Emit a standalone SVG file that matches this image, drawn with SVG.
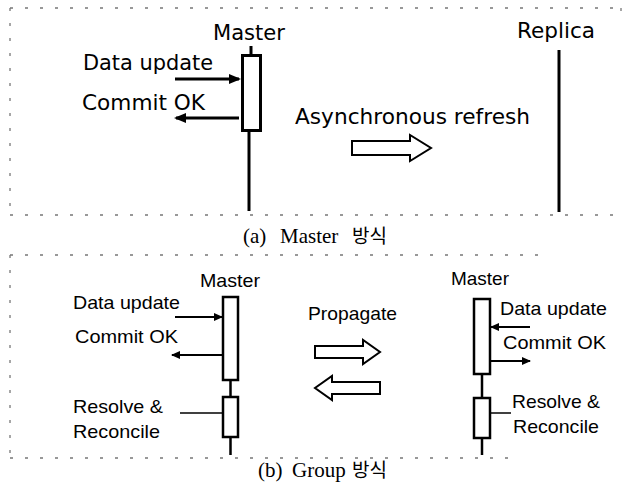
<svg xmlns="http://www.w3.org/2000/svg" width="625" height="496" viewBox="0 0 625 496">
<style>
.t1{font-family:"DejaVu Sans","Liberation Sans",sans-serif;font-size:21px;fill:#000}
.t2{font-family:"Liberation Sans","Arial",sans-serif;font-size:19px;fill:#000}
.cap{font-family:"Liberation Serif","Noto Sans CJK KR",serif;font-size:21px;fill:#000}
.ko{font-family:"Noto Sans CJK KR",sans-serif;font-size:19px}
.frame{fill:none;stroke:#777;stroke-width:1.3;stroke-dasharray:3 12}
.life1{fill:none;stroke:#000;stroke-width:3}
.life2{fill:none;stroke:#000;stroke-width:2.5}
.arr1{fill:none;stroke:#000;stroke-width:3;marker-end:url(#ah1)}
.arr2{fill:none;stroke:#000;stroke-width:2;marker-end:url(#ah2)}
.plain2{fill:none;stroke:#000;stroke-width:1.5}
.block{fill:#fff;stroke:#000;stroke-width:2;stroke-linejoin:miter}
</style>
<defs>
<marker id="ah1" markerWidth="12" markerHeight="10" refX="10" refY="5" orient="auto" markerUnits="userSpaceOnUse">
<path d="M0,0 L12,5 L0,10 z" fill="#000"/>
</marker>
<marker id="ah2" markerWidth="9" markerHeight="8" refX="8" refY="4" orient="auto" markerUnits="userSpaceOnUse">
<path d="M0,0 L9,4 L0,8 z" fill="#000"/>
</marker>
</defs>

<g id="frames">
<path class="frame" d="M10,8 H620 M10,215 H620 M10,8 V215 M621,8 V22"/>
<path class="frame" d="M10,255 H540 M10,458 H510 M10,255 V458"/>
</g>

<g id="master-a">
<text class="t1" x="213" y="40" textLength="72" lengthAdjust="spacingAndGlyphs">Master</text>
<line class="life1" x1="251" y1="46" x2="251" y2="55"/>
<rect class="life1" x="242.5" y="55.5" width="18" height="75"/>
<line class="life1" x1="249" y1="131" x2="249" y2="211"/>
</g>

<g id="replica-a">
<text class="t1" x="517" y="38" textLength="78" lengthAdjust="spacingAndGlyphs">Replica</text>
<line class="life1" x1="559" y1="50" x2="559" y2="212"/>
</g>

<g id="labels-a">
<text class="t1" x="83" y="70" textLength="130" lengthAdjust="spacingAndGlyphs">Data update</text>
<text class="t1" x="82" y="110" textLength="123" lengthAdjust="spacingAndGlyphs">Commit OK</text>
<text class="t1" x="295" y="124" textLength="235" lengthAdjust="spacingAndGlyphs">Asynchronous refresh</text>
</g>

<g id="caption-a">
<text class="cap" y="243"><tspan x="243">(a)</tspan><tspan x="280">Master</tspan><tspan x="352" class="ko">방식</tspan></text>
</g>

<g id="master-b-left">
<text class="t2" x="200" y="287" textLength="60" lengthAdjust="spacingAndGlyphs">Master</text>
<rect class="life2" x="223" y="297" width="15" height="83"/>
<line class="life2" x1="230.5" y1="380" x2="230.5" y2="397"/>
<rect class="life2" x="223" y="397" width="15" height="40"/>
<line class="life2" x1="230.5" y1="437" x2="230.5" y2="455"/>
<text class="t2" x="73" y="309" textLength="107" lengthAdjust="spacingAndGlyphs">Data update</text>
<text class="t2" x="75" y="343" textLength="103" lengthAdjust="spacingAndGlyphs">Commit OK</text>
<text class="t2" x="73" y="413" textLength="90" lengthAdjust="spacingAndGlyphs">Resolve &amp;</text>
<text class="t2" x="73" y="438" textLength="87" lengthAdjust="spacingAndGlyphs">Reconcile</text>
</g>

<g id="master-b-right">
<text class="t2" x="451" y="285" textLength="58" lengthAdjust="spacingAndGlyphs">Master</text>
<rect class="life2" x="474" y="299" width="16" height="75"/>
<line class="life2" x1="482" y1="374" x2="482" y2="398"/>
<rect class="life2" x="474" y="398" width="16" height="40"/>
<line class="life2" x1="482" y1="438" x2="482" y2="455"/>
<text class="t2" x="500" y="315" textLength="107" lengthAdjust="spacingAndGlyphs">Data update</text>
<text class="t2" x="503" y="349" textLength="103" lengthAdjust="spacingAndGlyphs">Commit OK</text>
<text class="t2" x="512" y="408" textLength="88" lengthAdjust="spacingAndGlyphs">Resolve &amp;</text>
<text class="t2" x="513" y="433" textLength="86" lengthAdjust="spacingAndGlyphs">Reconcile</text>
</g>

<g id="propagate-label">
<text class="t2" x="308" y="320" textLength="89" lengthAdjust="spacingAndGlyphs">Propagate</text>
</g>

<g id="caption-b">
<text class="cap" y="477"><tspan x="258">(b)</tspan><tspan x="292">Group</tspan><tspan x="352" class="ko">방식</tspan></text>
</g>

<g id="connectors">
<line class="arr1" x1="175" y1="79" x2="239" y2="79"/>
<line class="arr1" x1="239" y1="118" x2="176" y2="118"/>
<polygon class="block" points="352,141 410,141 410,135 431,148 410,161 410,155 352,155"/>
<line class="arr2" x1="175" y1="317" x2="222" y2="317"/>
<line class="arr2" x1="222" y1="355" x2="172" y2="355"/>
<line class="plain2" x1="180" y1="413" x2="223" y2="413"/>
<line class="arr2" x1="530" y1="327" x2="491" y2="327"/>
<line class="arr2" x1="490" y1="361" x2="530" y2="361"/>
<line class="plain2" x1="490" y1="413" x2="511" y2="413"/>
<polygon class="block" points="315,346 363,346 363,340 380,352 363,364 363,358 315,358"/>
<polygon class="block" points="380,382 332,382 332,376 315,388 332,400 332,394 380,394"/>
</g>
</svg>
